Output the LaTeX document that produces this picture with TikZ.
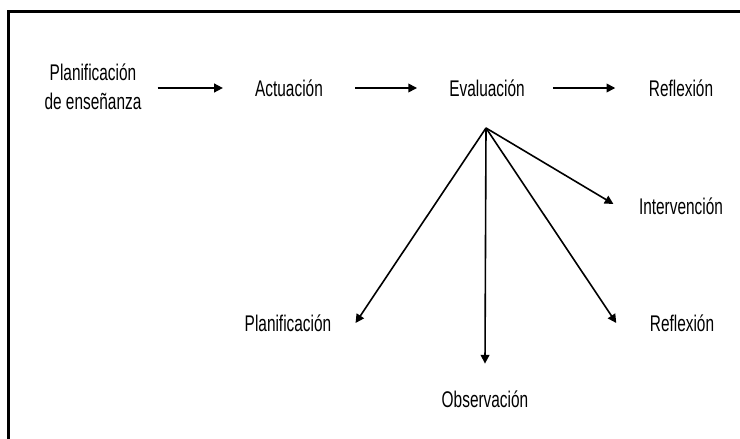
\documentclass[tikz,border=0pt]{standalone}
\usepackage{fontspec}
\setmainfont{Liberation Sans}[FakeStretch=0.68]
\usetikzlibrary{arrows.meta}

\begin{document}
\begin{tikzpicture}[x=0.75pt, y=-0.75pt,
    lbl/.style={inner sep=0pt, align=center, font=\fontsize{17}{22}\selectfont},
    flow/.style={line width=1.2pt, -{Triangle[length=6.5pt,width=6.5pt]}}]

        \useasboundingbox (0,0) rectangle (740,439);

        %frame
        \draw[line width=2.6pt] (8.7,439) -- (8.7,11.7) -- (740,11.7);

        %top row
        \node[lbl] (plane) at (93,87) {Planificación\\de enseñanza};
        \node[lbl] (actua) at (289,88) {Actuación};
        \node[lbl] (evalu) at (487,88) {Evaluación};
        \node[lbl] (reflx) at (681,88) {Reflexión};

        %fan
        \coordinate (fan) at (486,128);
        \node[lbl] (plani) at (288,323) {Planificación};
        \node[lbl] (obser) at (485,399) {Observación};
        \node[lbl] (refly) at (682,323) {Reflexión};
        \node[lbl] (inter) at (681,206) {Intervención};

        %arrows
        \draw[flow, shorten <=12pt, shorten >=24pt] (plane.east |- actua) -- (actua.west);
        \draw[flow, shorten <=24pt, shorten >=24pt] (actua.east) -- (evalu.west);
        \draw[flow, shorten <=21pt, shorten >=25pt] (evalu.east) -- (reflx.west);

        \draw[flow] (fan) -- ([xshift=18pt]plani.east);
        \draw[flow] (fan) -- ([yshift=20pt]obser.north);
        \draw[flow] (fan) -- ([xshift=-25pt]refly.west);
        \draw[flow] (fan) -- ([xshift=-19pt,yshift=1.5pt]inter.west);

\end{tikzpicture}
\end{document}
